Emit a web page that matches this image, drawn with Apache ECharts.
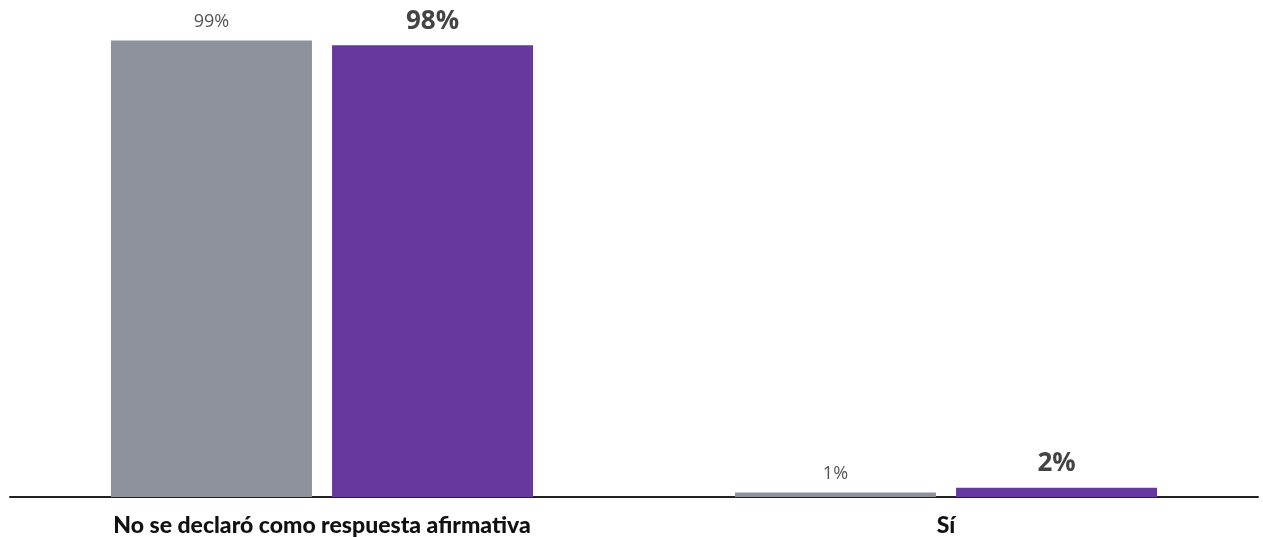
<!DOCTYPE html>
<html>
<head>
<meta charset="utf-8">
<script src="https://cdn.jsdelivr.net/npm/echarts@6/dist/echarts.min.js"></script>
<style>html,body{margin:0;padding:0;background:#fff}#c{width:1263px;height:537px}</style>
</head>
<body>
<div id="c"></div>
<script>
const categories = ['No se declaró como respuesta afirmativa', 'Sí'];
const seriesA = [99, 1];
const seriesB = [98, 2];

const chart = echarts.init(document.getElementById('c'));
chart.setOption({
  animation: false,
  grid: { left: 10, right: 5, top: 36, bottom: 40, containLabel: false },
  xAxis: {
    type: 'category',
    data: categories,
    axisLine: { lineStyle: { color: '#222', width: 2 } },
    axisTick: { show: false },
    axisLabel: { color: '#111', fontFamily: 'Lato', fontWeight: 900, fontSize: 23, margin: 17 }
  },
  yAxis: { type: 'value', min: 0, max: 100, show: false, splitLine: { show: false } },
  series: [
    {
      name: 'A', type: 'bar', data: seriesA, barWidth: 201, barGap: '10%',
      itemStyle: { color: '#8E929C' },
      label: { show: true, position: 'top', distance: 10, formatter: '{c}%', color: '#555', fontFamily: 'Open Sans', fontSize: 18 }
    },
    {
      name: 'B', type: 'bar', data: seriesB, barWidth: 201,
      itemStyle: { color: '#67399E' },
      label: { show: true, position: 'top', distance: 11, formatter: '{c}%', color: '#444', fontFamily: 'Open Sans', fontWeight: 'bold', fontSize: 26 }
    }
  ]
});
</script>
</body>
</html>
